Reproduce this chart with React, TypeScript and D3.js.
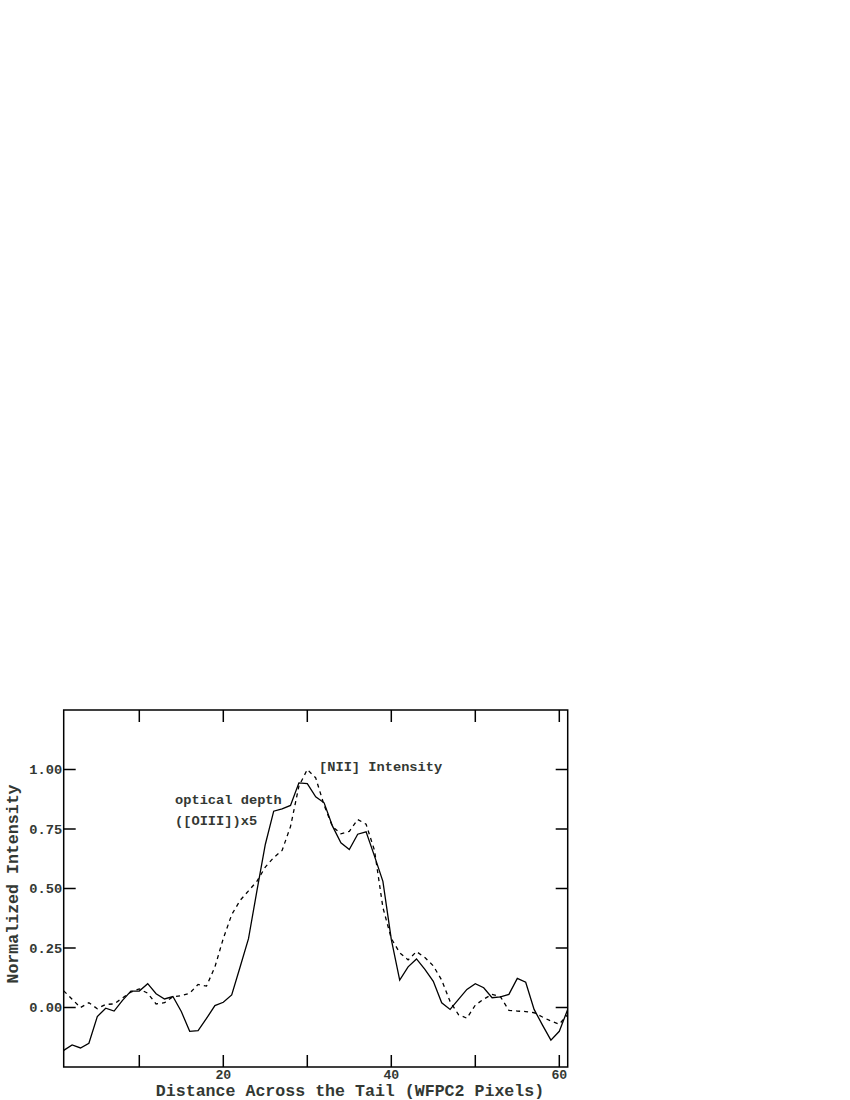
import React from "react";
import * as d3 from "d3";

const xPositions: number[] = d3.range(1, 62);

const opticalDepth: number[] = [
  -0.18, -0.157, -0.17, -0.15, -0.038, -0.003, -0.015, 0.03, 0.069, 0.069,
  0.1, 0.058, 0.036, 0.046, -0.017, -0.1, -0.097, -0.046, 0.008, 0.022,
  0.053, 0.17, 0.289, 0.49, 0.685, 0.825, 0.835, 0.849, 0.944, 0.941,
  0.885, 0.86, 0.762, 0.692, 0.664, 0.728, 0.738, 0.636, 0.53, 0.286,
  0.115, 0.171, 0.204, 0.16, 0.11, 0.02, -0.008, 0.034, 0.076, 0.1,
  0.083, 0.041, 0.045, 0.055, 0.122, 0.106, -0.008, -0.074, -0.137, -0.1,
  -0.008,
];

const niiIntensity: number[] = [
  0.07, 0.035, 0.0, 0.02, -0.005, 0.013, 0.015, 0.04, 0.065, 0.078,
  0.06, 0.015, 0.02, 0.045, 0.05, 0.06, 0.097, 0.09, 0.17, 0.29,
  0.39, 0.45, 0.49, 0.53, 0.59, 0.63, 0.66, 0.76, 0.93, 1.0,
  0.965, 0.85, 0.76, 0.73, 0.74, 0.79, 0.77, 0.66, 0.42, 0.29,
  0.23, 0.2, 0.235, 0.21, 0.175, 0.115, 0.025, -0.03, -0.045, 0.01,
  0.035, 0.055, 0.045, -0.012, -0.015, -0.017, -0.022, -0.04, -0.057, -0.07,
  -0.03,
];

const xTicks: number[] = [10, 20, 30, 40, 50, 60];
const xTickLabels: number[] = [20, 40, 60];
const yTicks: number[] = [0, 0.25, 0.5, 0.75, 1.0];

const xTitle = "Distance Across the Tail (WFPC2 Pixels)";
const yTitle = "Normalized Intensity";
const labelNII = "[NII] Intensity";
const labelOptical1 = "optical depth";
const labelOptical2 = "([OIII])x5";

export default function App() {
  const left = 63.7;
  const right = 567.7;
  const top = 710;
  const bottom = 1067;
  const x = d3.scaleLinear().domain([1, 61]).range([left, right]);
  const y = d3.scaleLinear().domain([-0.25, 1.25]).range([bottom, top]);
  const line = d3
    .line<number>()
    .x((_, i) => x(xPositions[i]))
    .y((d) => y(d));
  const font = "'Liberation Mono', 'Courier New', monospace";
  const textColor = "#333833";
  const tickLen = 12;

  return (
    <svg
      width={850}
      height={1100}
      style={{ position: "absolute", left: 0, top: 0, background: "#fff" }}
    >
      <defs>
        <clipPath id="plotclip">
          <rect x={left} y={top} width={right - left} height={bottom - top} />
        </clipPath>
      </defs>
      <g clipPath="url(#plotclip)">
        <path d={line(opticalDepth) || ""} fill="none" stroke="#000" strokeWidth={1.3} />
        <path
          d={line(niiIntensity) || ""}
          fill="none"
          stroke="#000"
          strokeWidth={1.3}
          strokeDasharray="4,4"
        />
      </g>
      <rect
        x={left}
        y={top}
        width={right - left}
        height={bottom - top}
        fill="none"
        stroke="#000"
        strokeWidth={1.5}
      />
      {xTicks.map((t) => (
        <g key={"xt" + t}>
          <line x1={x(t)} x2={x(t)} y1={bottom} y2={bottom - tickLen} stroke="#000" strokeWidth={1.5} />
          <line x1={x(t)} x2={x(t)} y1={top} y2={top + tickLen} stroke="#000" strokeWidth={1.5} />
        </g>
      ))}
      {yTicks.map((t) => (
        <g key={"yt" + t}>
          <line x1={left} x2={left + tickLen} y1={y(t)} y2={y(t)} stroke="#000" strokeWidth={1.5} />
          <line x1={right} x2={right - tickLen} y1={y(t)} y2={y(t)} stroke="#000" strokeWidth={1.5} />
          <text
            x={left - 1.5}
            y={y(t)}
            dy="0.35em"
            textAnchor="end"
            fontFamily={font}
            fontWeight="bold"
            fontSize={13.7}
            fill={textColor}
          >
            {t.toFixed(2)}
          </text>
        </g>
      ))}
      {xTickLabels.map((t) => (
        <text
          key={"xl" + t}
          x={x(t)}
          y={1079}
          textAnchor="middle"
          fontFamily={font}
          fontWeight="bold"
          fontSize={13.2}
          fill={textColor}
        >
          {t}
        </text>
      ))}
      <text
        x={350}
        y={1096}
        textAnchor="middle"
        fontFamily={font}
        fontWeight="bold"
        fontSize={16.6}
        fill={textColor}
      >
        {xTitle}
      </text>
      <text
        transform="translate(17.5,884) rotate(-90)"
        textAnchor="middle"
        fontFamily={font}
        fontWeight="bold"
        fontSize={16.6}
        fill={textColor}
      >
        {yTitle}
      </text>
      <text x={319} y={771} fontFamily={font} fontWeight="bold" fontSize={13.7} fill={textColor}>
        {labelNII}
      </text>
      <text x={175} y={804} fontFamily={font} fontWeight="bold" fontSize={13.7} fill={textColor}>
        {labelOptical1}
      </text>
      <text x={175} y={825} fontFamily={font} fontWeight="bold" fontSize={13.7} fill={textColor}>
        {labelOptical2}
      </text>
    </svg>
  );
}
